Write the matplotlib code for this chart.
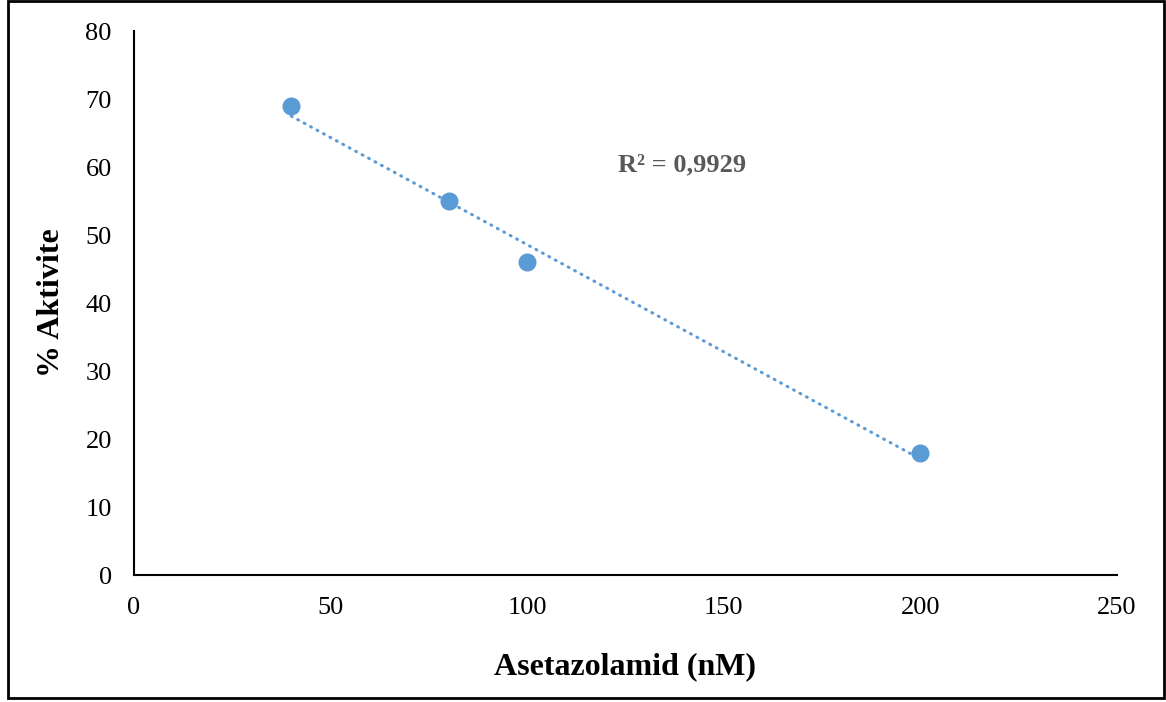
import numpy as np
import matplotlib
matplotlib.use("Agg")
import matplotlib.pyplot as plt
from matplotlib.patches import Rectangle

# Data
conc_nM = [40, 80, 100, 200]
activity_pct = [69, 55, 46, 18]
x_ticks = [0, 50, 100, 150, 200, 250]
y_ticks = [0, 10, 20, 30, 40, 50, 60, 70, 80]
r2_label = "R² = 0,9929"
x_label = "Asetazolamid (nM)"
y_label = "% Aktivite"

plt.rcParams['font.family'] = ['Liberation Serif', 'DejaVu Serif']

fig = plt.figure(figsize=(11.66, 7.02), dpi=100)
W, H = 1166, 702
ax = fig.add_axes([134 / W, 1 - 575 / H, (1117 - 134) / W, (575 - 31) / H])

blue = '#5B9BD5'
x = np.array(conc_nM, dtype=float)
y = np.array(activity_pct, dtype=float)
slope, intercept = np.polyfit(x, y, 1)
xl = np.array([x.min(), x.max()])
ax.plot(xl, slope * xl + intercept, linestyle=(0, (0.3, 2.1)), color=blue,
        linewidth=2.2, dash_capstyle='round', zorder=2)
ax.plot(x, y, 'o', color=blue, markersize=13, markeredgewidth=0, zorder=3)

ax.set_xlim(0, 250)
ax.set_ylim(0, 80)
ax.set_xticks(x_ticks)
ax.set_yticks(y_ticks)
ax.tick_params(length=0, labelsize=19)
ax.tick_params(axis='x', pad=16)
ax.tick_params(axis='y', pad=16)
for s in ['top', 'right']:
    ax.spines[s].set_visible(False)
for s in ['left', 'bottom']:
    ax.spines[s].set_linewidth(1.5)
    ax.spines[s].set_color('black')

ax.set_xlabel(x_label, fontsize=23, fontweight='bold', labelpad=24)
ax.set_ylabel(y_label, fontsize=23, fontweight='bold', labelpad=14)

ax.text(139.5, 60.3, r2_label, fontsize=19, fontweight='bold', color='#595959',
        ha='center', va='center')

fig.add_artist(Rectangle((7.5 / W, 1 - 697.5 / H), (1163.5 - 7.5) / W, (697.5 - 1) / H,
                         transform=fig.transFigure, fill=False, edgecolor='black',
                         linewidth=2))

fig.savefig('out.png', dpi=100)
